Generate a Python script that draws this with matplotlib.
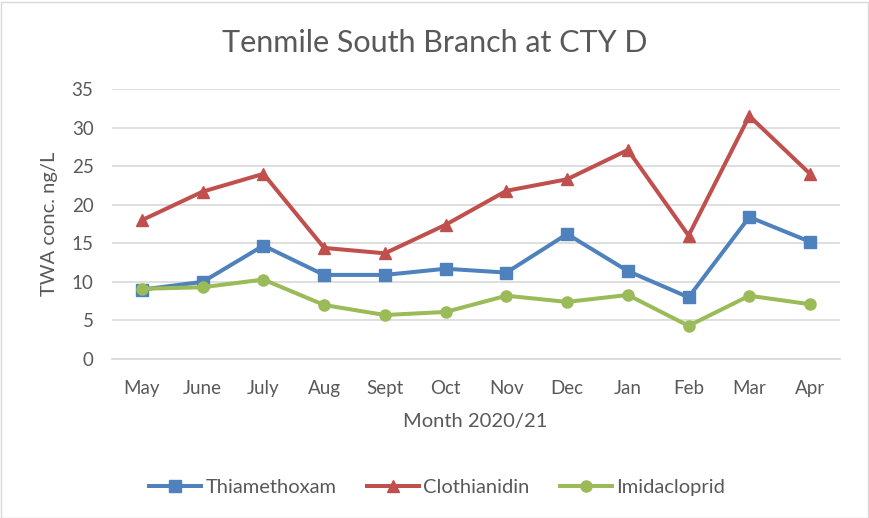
import matplotlib
matplotlib.use("Agg")
import matplotlib.pyplot as plt
from matplotlib.patches import Rectangle

months = ["May", "June", "July", "Aug", "Sept", "Oct", "Nov", "Dec", "Jan", "Feb", "Mar", "Apr"]
thiamethoxam = [9.0, 10.0, 14.7, 10.9, 10.9, 11.7, 11.2, 16.2, 11.4, 8.0, 18.4, 15.2]
clothianidin = [18.0, 21.7, 24.0, 14.4, 13.7, 17.4, 21.8, 23.3, 27.1, 16.0, 31.5, 24.0]
imidacloprid = [9.1, 9.3, 10.3, 7.0, 5.7, 6.1, 8.2, 7.4, 8.3, 4.3, 8.2, 7.1]
yticks = [0, 5, 10, 15, 20, 25, 30, 35]

plt.rcParams['font.family'] = ['Lato', 'DejaVu Sans']
tc = "#595959"

fig = plt.figure(figsize=(8.69, 5.18), dpi=100)
ax = fig.add_axes([111.6/869, 1-359/518, (840.4-111.6)/869, (359-89)/518])

x = list(range(len(months)))
ax.plot(x, thiamethoxam, color="#4f81bd", lw=2.9, marker="s", ms=8, label="Thiamethoxam")
ax.plot(x, clothianidin, color="#c0504d", lw=2.9, marker="^", ms=8.5, label="Clothianidin")
ax.plot(x, imidacloprid, color="#9bbb59", lw=2.9, marker="o", ms=8, label="Imidacloprid")

ax.set_xlim(-0.5, len(months)-0.5)
ax.set_ylim(0, 35)
ax.set_yticks(yticks)
ax.set_xticks(x)
ax.set_xticklabels(months)
ax.grid(axis="y", color="#d9d9d9", lw=1.2)
ax.set_axisbelow(True)
for s in ["top", "right", "left"]:
    ax.spines[s].set_visible(False)
ax.spines["bottom"].set_color("#d9d9d9")
ax.spines["bottom"].set_linewidth(1.2)
ax.tick_params(axis="both", length=0, labelsize=13.5, labelcolor=tc)
ax.tick_params(axis="y", pad=13)
ax.tick_params(axis="x", pad=15)

fig.text(435/869, 1-43/518, "Tenmile South Branch at CTY D", fontsize=22, color=tc,
         ha="center", va="center")
fig.text(475/869, 1-421/518, "Month 2020/21", fontsize=14.5, color=tc, ha="center", va="center")
fig.text(50/869, 1-224/518, "TWA conc. ng/L", fontsize=14.5, color=tc, ha="center", va="center",
         rotation=90)

leg = fig.legend(loc="center", bbox_to_anchor=(437/869, 1-487/518), ncol=3, frameon=False,
                 fontsize=14.5, handlelength=2.6, columnspacing=1.5, handletextpad=0.2)
for t in leg.get_texts():
    t.set_color(tc)

fig.patches.append(Rectangle((0.5/869, 0.5/518), 867/869, 516/518, transform=fig.transFigure,
                             fill=False, edgecolor="#d9d9d9", lw=1))

fig.savefig("out.png", dpi=100)
